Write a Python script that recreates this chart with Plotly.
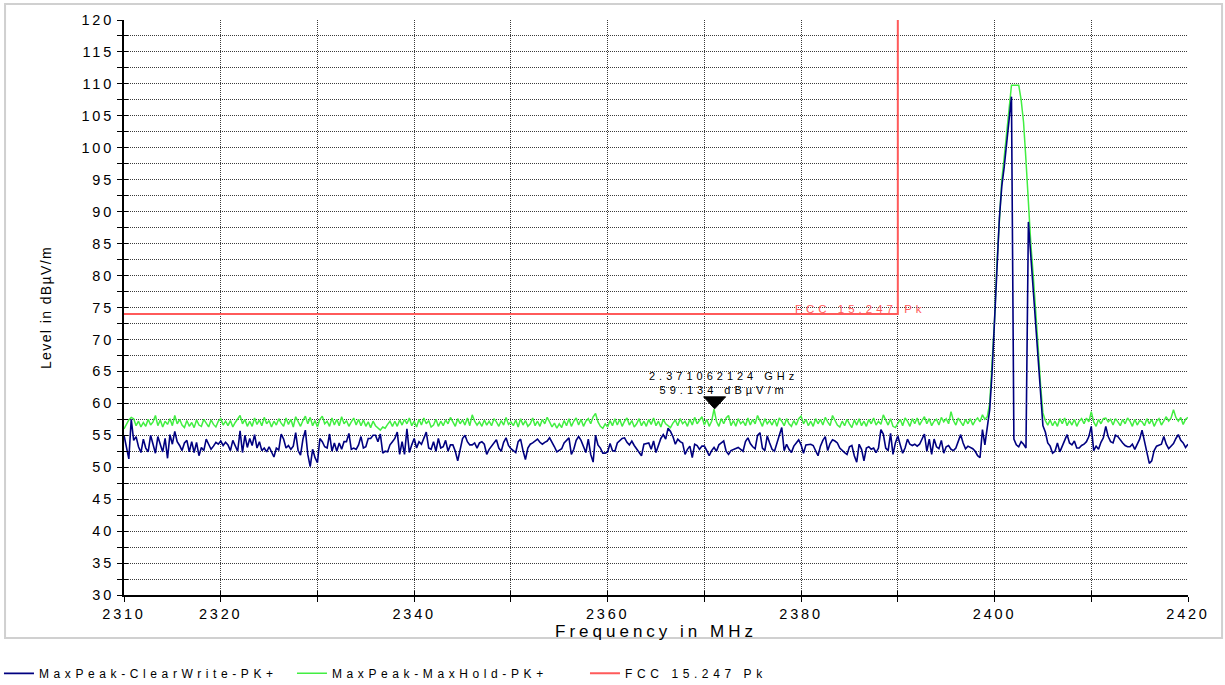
import numpy as np
import plotly.graph_objects as go

# Sweep grid of the analyzer (MHz)
freq_start_mhz = 2310.0
freq_step_mhz = 0.25

# MaxPeak-ClearWrite-PK+ trace, dBµV/m, one row per MHz (4 points per row)
clearwrite_dbuv = [
    55.0, 53.4, 51.3, 57.5,
    54.2, 54.8, 53.2, 52.3,
    54.4, 53.0, 52.4, 55.0,
    53.6, 52.2, 54.8, 53.5,
    52.4, 54.5, 51.4, 55.1,
    53.6, 55.6, 54.0, 53.4,
    52.6, 53.8, 54.2, 52.4,
    54.0, 52.3, 53.9, 51.8,
    53.1, 52.6, 54.4, 53.6,
    52.8, 53.3, 53.9, 53.6,
    54.1, 53.4, 53.9, 53.5,   # 2320
    52.6, 54.2, 53.2, 52.5,
    55.7, 52.3, 55.0, 53.1,
    54.5, 53.4, 55.1, 53.0,
    54.0, 52.6, 53.0, 52.4,
    53.2, 52.5, 51.6, 53.0,
    52.7, 55.2, 54.4, 53.0,
    53.4, 52.8, 53.3, 55.4,
    52.6, 51.9, 54.4, 55.8,
    52.0, 50.1, 52.8, 51.5,
    50.7, 54.5, 54.0, 53.2,   # 2330
    53.0, 55.2, 52.5, 53.8,
    52.5, 53.8, 52.8, 54.0,
    54.0, 55.3, 52.8, 53.0,
    52.8, 53.5, 54.8, 53.0,
    53.2, 54.5, 54.5, 55.0,
    55.0, 54.0, 55.2, 52.2,
    52.5, 52.4, 53.5, 54.0,
    54.5, 55.5, 52.0, 54.0,
    52.0, 56.0, 52.3, 53.5,
    54.5, 53.0, 54.0, 53.6,   # 2340
    54.5, 55.5, 53.0, 52.8,
    54.0, 52.5, 54.5, 53.0,
    53.2, 54.2, 52.5, 53.5,
    53.5, 52.5, 51.0, 53.0,
    54.5, 55.0, 54.0, 53.5,
    53.5, 53.8, 53.0, 53.8,
    54.0, 53.6, 52.0, 52.8,
    53.3, 53.9, 54.3, 53.0,
    52.5, 53.9, 54.6, 53.4,
    52.9, 52.6, 52.3, 54.0,   # 2350
    54.4, 52.6, 51.2, 53.0,
    53.6, 53.8, 54.1, 54.4,
    53.9, 53.6, 53.9, 54.1,
    54.6, 54.0, 53.2, 52.4,
    52.7, 52.9, 53.8, 54.2,
    54.6, 52.0, 52.8, 54.2,
    54.8, 54.2, 53.2, 52.3,
    54.4, 52.0, 50.8, 55.0,
    53.5, 53.0, 52.2, 52.2,
    52.4, 53.7, 52.6, 52.5,   # 2360
    53.8, 54.2, 54.5, 54.6,
    53.9, 53.5, 54.1, 53.4,
    52.8, 52.4, 51.8, 53.6,
    53.7, 53.8, 52.8, 54.1,
    52.3, 53.5, 54.5, 55.1,
    54.4, 56.1, 55.6, 54.8,
    53.6, 54.4, 54.0, 53.8,
    52.0, 52.8, 53.3, 51.5,
    53.6, 53.4, 52.8, 53.3,
    53.3, 52.6, 51.8, 52.6,   # 2370
    53.1, 52.5, 53.5, 53.8,
    54.1, 52.5, 52.0, 52.6,
    52.8, 53.0, 53.1, 52.8,
    52.5, 54.0, 54.6, 53.7,
    53.2, 52.9, 55.0, 55.4,
    53.0, 52.6, 54.9, 53.8,
    52.8, 52.5, 53.6, 55.0,
    56.2, 52.6, 53.6, 52.8,
    52.3, 53.3, 53.8, 54.3,
    53.5, 52.2, 53.5, 53.6,   # 2380
    53.6, 53.4, 52.6, 51.8,
    53.3, 54.2, 54.8, 52.6,
    53.7, 54.3, 54.1, 53.8,
    53.0, 52.6, 52.3, 52.0,
    53.2, 53.4, 51.8, 50.8,
    53.6, 52.8, 51.0, 53.0,
    53.2, 52.8, 53.0, 52.3,
    53.0, 55.9, 55.2, 53.0,
    52.6, 55.3, 52.0, 53.8,
    54.9, 53.5, 52.2, 53.0,   # 2390
    54.4, 53.6, 53.4, 53.6,
    53.3, 53.6, 54.5, 55.2,
    52.5, 54.4, 52.0, 54.4,
    53.2, 52.9, 54.2, 52.2,
    53.2, 53.4, 52.8, 52.6,
    53.0, 53.9, 55.1, 53.8,
    52.9, 53.3, 53.1, 52.9,
    52.5, 51.8, 51.5, 55.9,
    53.5, 56.5, 59.0, 65.0,
    72.0, 81.0, 89.0, 94.0,   # 2400
    97.0, 101.0, 105.0, 108.0,
    54.4, 53.5, 53.2, 54.0,
    53.6, 53.0, 88.4, 83.0,
    78.0, 73.0, 67.0, 61.0,
    56.5, 55.5, 53.8, 53.3,
    52.2, 52.5, 53.8, 52.4,
    53.4, 54.1, 55.1, 53.8,
    53.5, 54.1, 53.0, 53.0,
    53.4, 53.6, 54.0, 54.8,
    56.4, 52.6, 53.3, 52.8,   # 2410
    53.9, 54.6, 56.4, 54.8,
    54.0, 53.8, 55.0, 54.8,
    54.2, 53.8, 53.4, 53.2,
    53.2, 53.6, 52.8, 53.6,
    54.4, 55.8, 54.0, 52.2,
    50.6, 51.0, 52.6, 53.3,
    53.4, 53.6, 54.8, 53.6,
    52.9, 53.3, 53.7, 54.5,
    55.1, 54.2, 53.8, 53.1,
    53.6,                     # 2420
]

# MaxPeak-MaxHold-PK+ trace, dBµV/m, same grid
maxhold_dbuv = [
    56.0, 56.8, 57.4, 57.8,
    57.6, 56.5, 57.2, 56.3,
    57.0, 56.4, 57.5, 56.6,
    57.1, 58.1, 56.5, 57.4,
    56.3, 57.2, 56.7, 57.6,
    56.5, 58.1, 56.8, 57.5,
    56.6, 56.2, 57.3, 56.4,
    57.0, 56.2, 57.4, 56.6,
    56.4, 57.5, 56.8, 56.3,
    57.4, 56.7, 56.3, 57.2,
    57.6, 56.6, 57.2, 56.5,   # 2320
    57.3, 56.3, 57.0, 57.5,
    58.1, 56.8, 57.5, 56.4,
    57.2, 56.4, 57.7, 56.7,
    57.4, 56.5, 57.8, 56.8,
    57.3, 56.3, 57.2, 56.6,
    57.6, 56.9, 56.4, 57.7,
    56.7, 57.5, 56.3, 57.9,
    57.1, 56.4, 57.3, 58.0,
    56.8, 57.8, 56.5, 57.3,
    56.3, 57.5, 58.0, 56.8,   # 2330
    57.2, 56.4, 57.7, 56.6,
    57.5, 56.5, 57.9, 56.8,
    57.3, 56.4, 57.1, 57.7,
    56.6, 57.5, 56.5, 57.4,
    56.4, 57.1, 56.2, 57.2,
    56.5, 56.1, 55.8, 56.3,
    56.1, 56.7, 57.2, 56.4,
    57.2, 56.4, 57.4, 56.6,
    57.5, 56.8, 57.7, 56.5,
    57.2, 56.3, 57.5, 56.6,   # 2340
    57.7, 56.8, 57.3, 56.3,
    56.6, 57.5, 56.4, 57.2,
    56.5, 57.4, 56.8, 57.8,
    57.1, 56.4, 57.6, 56.8,
    57.4, 56.6, 57.7, 56.5,
    58.2, 57.2, 56.6, 57.1,
    56.4, 57.4, 56.6, 57.2,
    56.5, 57.6, 57.1, 56.4,
    57.3, 56.6, 57.8, 56.7,
    57.1, 56.5, 57.4, 56.3,   # 2350
    57.6, 56.6, 57.3, 56.4,
    56.8, 57.7, 56.5, 57.2,
    56.4, 57.5, 56.8, 57.8,
    57.1, 56.3, 56.9, 56.1,
    56.8, 56.2, 57.3, 56.5,
    57.6, 56.4, 57.2, 57.7,
    56.6, 57.5, 56.4, 57.2,
    57.6, 56.8, 57.9, 58.4,
    57.1, 56.4, 56.1, 56.8,
    56.3, 57.3, 56.5, 57.6,   # 2360
    56.6, 57.5, 56.4, 57.2,
    57.7, 56.6, 57.3, 56.3,
    56.8, 57.6, 56.5, 57.2,
    56.4, 57.5, 56.7, 57.7,
    56.5, 57.2, 56.3, 57.5,
    56.8, 56.5, 56.2, 56.9,
    57.4, 56.5, 57.6, 56.8,
    57.2, 56.4, 57.5, 56.6,
    57.8, 56.8, 57.3, 57.9,
    56.6, 57.5, 56.4, 57.2,   # 2370
    59.1, 57.2, 56.4, 57.6,
    56.8, 57.7, 58.1, 56.5,
    57.3, 56.4, 57.6, 56.8,
    57.2, 56.5, 57.7, 56.6,
    57.5, 56.8, 58.1, 57.1,
    56.4, 57.6, 56.8, 57.3,
    56.6, 57.5, 56.4, 57.7,
    57.2, 56.5, 57.6, 56.8,
    56.4, 57.3, 56.6, 57.6,
    58.0, 56.8, 57.5, 56.5,   # 2380
    57.2, 56.4, 57.6, 56.8,
    57.5, 56.6, 57.8, 57.1,
    56.5, 58.1, 57.3, 56.6,
    56.3, 57.2, 56.5, 57.5,
    56.8, 56.2, 57.4, 56.6,
    57.6, 56.5, 57.2, 56.4,
    57.5, 56.8, 57.7, 56.6,
    57.2, 56.7, 58.2, 57.4,
    56.6, 57.6, 56.4, 56.2,
    56.8, 57.5, 56.5, 57.7,   # 2390
    57.2, 56.4, 57.6, 56.8,
    57.7, 56.6, 57.3, 57.9,
    56.8, 57.6, 56.5, 57.2,
    57.5, 56.6, 57.8, 57.1,
    57.6, 56.8, 58.7, 57.3,
    56.6, 57.7, 57.1, 56.5,
    57.5, 56.8, 57.6, 56.6,
    57.3, 57.7, 57.1, 58.2,
    57.5, 57.9, 60.0, 66.0,
    73.0, 82.0, 89.5, 95.0,   # 2400
    98.5, 102.5, 107.0, 109.8,
    109.8, 109.8, 109.8, 107.5,
    104.0, 98.0, 91.0, 85.0,
    80.0, 75.0, 69.0, 63.0,
    58.5, 57.3, 56.6, 57.4,
    56.5, 57.2, 56.4, 57.6,
    56.8, 57.7, 56.5, 57.3,
    56.6, 57.5, 56.4, 57.2,
    57.6, 56.8, 57.7, 57.1,
    58.7, 57.1, 56.4, 57.5,   # 2410
    56.8, 57.6, 57.7, 57.1,
    57.5, 56.6, 57.6, 57.1,
    56.5, 57.5, 56.8, 57.7,
    57.2, 56.4, 57.5, 56.6,
    57.3, 57.1, 56.5, 57.6,
    56.8, 57.5, 56.4, 57.2,
    57.6, 56.6, 57.3, 57.9,
    57.2, 57.7, 59.0, 57.8,
    57.2, 57.8, 56.7, 57.5,
    57.8,                     # 2420
]

# FCC 15.247 peak limit (restricted band edge at 2390 MHz)
limit_freq_mhz = [2310, 2390, 2390]
limit_level_dbuv = [74, 74, 120]

# Marker readout
marker_freq_mhz = 2371.062124
marker_level_dbuv = 59.134

# Axes
x_range = [2310, 2420]
y_range = [30, 120]
x_tick_vals = [2310, 2320, 2330, 2340, 2350, 2360, 2370, 2380, 2390, 2400, 2410, 2420]
x_tick_labels = ["2310", "2320", "", "2340", "", "2360", "", "2380", "", "2400", "", "2420"]
y_tick_vals = [30 + 2.5 * i for i in range(37)]
y_tick_labels = [str(int(v)) if v % 5 == 0 else "" for v in y_tick_vals]

names = ["MaxPeak-ClearWrite-PK+", "MaxPeak-MaxHold-PK+", "FCC 15.247 Pk"]

freq_mhz = freq_start_mhz + freq_step_mhz * np.arange(len(clearwrite_dbuv))

FONT = "Arial, Liberation Sans, Helvetica, sans-serif"


def spaced(text, px):
    return f'<span style="letter-spacing:{px}px">{text}</span>'


BLUE = "#000080"
GREEN = "#42ee42"
RED = "#ff5a5a"

fig = go.Figure()

fig.add_trace(go.Scatter(
    x=freq_mhz, y=maxhold_dbuv, mode="lines", name=spaced(names[1], 4.6),
    line=dict(color=GREEN, width=1.5), legendrank=2, hoverinfo="x+y",
))
fig.add_trace(go.Scatter(
    x=freq_mhz, y=clearwrite_dbuv, mode="lines", name=spaced(names[0], 4.6),
    line=dict(color=BLUE, width=1.6), legendrank=1, hoverinfo="x+y",
))
fig.add_trace(go.Scatter(
    x=limit_freq_mhz, y=limit_level_dbuv, mode="lines", name=spaced(names[2], 4.6),
    line=dict(color=RED, width=2), legendrank=3, xaxis="x2", yaxis="y2",
    hoverinfo="x+y",
))

grid_dash = "1px,1px"
axis_common = dict(
    showline=True, linecolor="black", linewidth=2, mirror=False,
    showgrid=True, gridcolor="#3a3a3a", gridwidth=1, griddash=grid_dash,
    zeroline=False, ticks="outside", ticklen=5, tickwidth=1, tickcolor="black",
    tickfont=dict(family=FONT, size=14.5, color="black"),
    automargin=False,
)

fig.update_layout(
    width=1225, height=685,
    margin=dict(l=124, r=37, t=20, b=90, autoexpand=False),
    paper_bgcolor="white", plot_bgcolor="white",
    showlegend=True,
    xaxis=dict(
        range=x_range, tickmode="array", tickvals=x_tick_vals,
        ticktext=[spaced(t, 2.8) if t else "" for t in x_tick_labels],
        title=dict(text=spaced("Frequency in MHz", 4.0),
                   font=dict(family=FONT, size=17, color="black"), standoff=4),
        **axis_common,
    ),
    yaxis=dict(
        range=y_range, tickmode="array", tickvals=y_tick_vals,
        ticktext=[spaced(t, 2.8) if t else "" for t in y_tick_labels],
        title=dict(text=spaced("Level in dBµV/m", 1.4),
                   font=dict(family="Liberation Sans Narrow, Arial Narrow, " + FONT,
                             size=14, color="black"), standoff=27),
        **axis_common,
    ),
    # overlay axes carrying the limit line; they add the inner half of each tick
    xaxis2=dict(
        range=x_range, overlaying="x", anchor="y2", side="bottom",
        tickmode="array", tickvals=x_tick_vals, ticks="inside", ticklen=4,
        tickcolor="black", showticklabels=False, showgrid=False,
        showline=False, zeroline=False, automargin=False,
    ),
    yaxis2=dict(
        range=y_range, overlaying="y", anchor="x2", side="left",
        tickmode="array", tickvals=y_tick_vals, ticks="inside", ticklen=4,
        tickcolor="black", showticklabels=False, showgrid=False,
        showline=False, zeroline=False, automargin=False,
    ),
    legend=dict(
        orientation="h", x=-0.1175, xanchor="left", y=-0.111, yanchor="top",
        font=dict(family=FONT, size=12, color="black"),
        bgcolor="rgba(0,0,0,0)", itemwidth=30, traceorder="normal",
        entrywidth=248, entrywidthmode="pixels",
    ),
    shapes=[
        # outer chart frame
        dict(type="rect", xref="paper", yref="paper",
             x0=-0.1118, x1=1.032, y0=-0.0748, y1=1.0278,
             line=dict(color="#d0d0d0", width=2), fillcolor="rgba(0,0,0,0)",
             layer="below"),
        # marker triangle pointing at the readout position
        dict(type="path", xref="x", yref="y",
             xsizemode="pixel", ysizemode="pixel",
             xanchor=marker_freq_mhz, yanchor=marker_level_dbuv,
             path="M -11,12 L 11,12 L 0,0 Z",
             fillcolor="black", line=dict(color="black", width=1)),
    ],
    annotations=[
        dict(x=marker_freq_mhz, y=marker_level_dbuv, xref="x", yref="y",
             text=spaced(f"{marker_freq_mhz / 1000:.9f} GHz", 4.0) + "<br>"
             + spaced(f"{marker_level_dbuv:.3f} dBµV/m", 4.0),
             showarrow=False, xanchor="center", yanchor="bottom",
             xshift=9, yshift=11, align="center",
             font=dict(family=FONT, size=11, color="black")),
        dict(x=limit_freq_mhz[1], y=limit_level_dbuv[1], xref="x", yref="y",
             text=spaced(names[2], 4.0), showarrow=False,
             xanchor="center", yanchor="middle", xshift=-37, yshift=5,
             font=dict(family=FONT, size=11.5, color=RED)),
    ],
)

fig.write_html("out.html")
